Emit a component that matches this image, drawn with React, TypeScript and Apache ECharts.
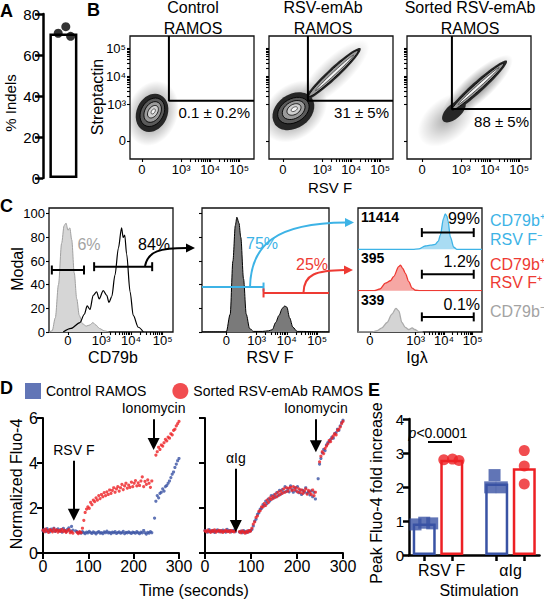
import React, { useEffect, useRef } from "react";
import * as echarts from "echarts";

const FONT = "'Liberation Sans', Arial, Helvetica, sans-serif";
const BLACK = "#000";
const D_BLUE = "#3953a4";
const D_RED = "#ed2024";
const C_BLUE = "#3db3e6";
const C_RED = "#ee3a33";
const C_GRAY = "#a3a3a3";

// ---------------- Panel A ----------------
const A_MEAN = 70.5;
const A_VALUES = [70.6, 73.8, 69.1];
const A_JITTER = [-0.13, 0.06, 0.18];

// ---------------- Panel B ----------------
const B_TITLES = ["Control\nRAMOS", "RSV-emAb\nRAMOS", "Sorted RSV-emAb\nRAMOS"];
const B_PERCENTS = ["0.1 ± 0.2%", "31 ± 5%", "88 ± 5%"];
const LOG_LABELS = ["0", "10³", "10⁴", "10⁵"];
const B_X_TICKS = [0, 1.35, 2.35, 3.35];
const B_Y_TICKS = [0, 1.3, 2.3, 3.3];
const B_X_RANGES = [[-0.41, 3.86], [-0.48, 3.79], [-0.52, 3.76]];
const B_Y_RANGE = [-0.64, 3.73];
const B_GATES = [[0.93, 1.43], [0.86, 1.43], [1.03, 1.14]];
// population contours: [cx, cy, rx, ry, angleDeg, level]
const B1_POP = [
  [0.36, 0.98, 1.15, 0.9, 70, 0],
  [0.35, 1.0, 0.68, 0.55, 65, 1],
  [0.36, 1.02, 0.52, 0.4, 60, 2],
  [0.37, 1.03, 0.38, 0.28, 60, 3],
  [0.38, 1.04, 0.24, 0.16, 55, 4],
  [0.39, 1.05, 0.1, 0.06, 55, 5],
];
const B2_POP = [
  [0.4, 1.05, 1.25, 0.95, 40, 0],
  [1.75, 2.4, 1.6, 0.55, 43, 6],
  [0.36, 1.06, 0.78, 0.6, 35, 1],
  [1.72, 2.38, 1.3, 0.2, 43, 1],
  [0.36, 1.08, 0.58, 0.42, 30, 2],
  [1.74, 2.4, 1.15, 0.13, 43, 3],
  [0.37, 1.1, 0.42, 0.3, 30, 3],
  [0.38, 1.12, 0.26, 0.18, 30, 4],
  [1.78, 2.42, 0.9, 0.05, 43, 5],
  [0.39, 1.13, 0.12, 0.07, 30, 5],
];
const B3_POP = [
  [0.85, 0.75, 1.15, 0.75, 40, 6],
  [1.9, 1.9, 1.6, 0.5, 42, 0],
  [1.1, 1.05, 0.5, 0.26, 42, 1],
  [1.9, 1.9, 1.38, 0.2, 42, 1],
  [1.92, 1.92, 1.2, 0.12, 42, 3],
  [1.95, 1.95, 0.95, 0.05, 42, 5],
];
const B_POPS = [B1_POP, B2_POP, B3_POP];

// ---------------- Panel C ----------------
const C_Y_TICKS = [0, 20, 40, 60, 80, 100];
const C1_X_TICKS = [0, 1.05, 2.0, 3.0];
const C1_CONTROL = [[-0.6, 0], [-0.5, 1], [-0.4, 12], [-0.3, 40], [-0.2, 75], [-0.12, 90], [-0.06, 92], [0.0, 86], [0.06, 88], [0.12, 78], [0.2, 50], [0.28, 28], [0.36, 14], [0.46, 7], [0.58, 5], [0.7, 6], [0.79, 8], [0.88, 6], [1.0, 3], [1.15, 1], [1.3, 0]];
const C1_RAMOS = [[-0.15, 0], [0.1, 3], [0.38, 8], [0.52, 15], [0.61, 22], [0.7, 19], [0.8, 31], [0.91, 34], [0.99, 28], [1.12, 35], [1.23, 31], [1.3, 25], [1.39, 30], [1.49, 48], [1.6, 71], [1.7, 88], [1.75, 80], [1.8, 82], [1.86, 66], [1.97, 34], [2.07, 14], [2.23, 4], [2.39, 0]];
const C1_GATES = [[-0.51, 0.51, 52.4], [0.83, 2.67, 55.2]];
const C1_PCTS = ["6%", "84%"];
const C2_X_TICKS = [0, 1, 2, 3];
const C2_HIST = [[-0.8, 0], [0.0, 0], [0.13, 15], [0.22, 60], [0.3, 90], [0.35, 97], [0.42, 92], [0.48, 80], [0.57, 45], [0.66, 15], [0.77, 3], [0.9, 0.5], [1.2, 0.5], [1.4, 1], [1.52, 2], [1.63, 8], [1.74, 14], [1.85, 20], [1.93, 22], [2.0, 21], [2.09, 12], [2.2, 4], [2.34, 0.5], [3.4, 0]];
const C2_SPLIT = 1.23;
const C2_GATE_Y = [38, 33];
const C2_PCTS = ["75%", "25%"];
const C3_X_TICKS = [0, 1.6, 2.6, 3.6];
const C3_BLUE = [[-0.42, 0], [1.5, 0], [1.71, 1], [1.94, 8], [2.12, 10], [2.29, 12], [2.4, 20], [2.47, 35], [2.58, 75], [2.64, 86], [2.7, 80], [2.74, 68], [2.82, 30], [2.94, 5], [3.05, 0], [3.93, 0]];
const C3_RED = [[-0.42, 0], [0.15, 0], [0.35, 4], [0.54, 18], [0.72, 24], [0.83, 34], [1.01, 58], [1.07, 62], [1.15, 54], [1.24, 42], [1.36, 22], [1.48, 6], [1.6, 1], [1.75, 0], [3.93, 0]];
const C3_GRAY = [[-0.42, 0], [0.07, 0], [0.25, 3], [0.42, 10], [0.6, 23], [0.77, 43], [0.91, 57], [1.01, 51], [1.12, 23], [1.24, 11], [1.36, 6], [1.48, 10], [1.57, 6], [1.71, 1], [1.85, 0]];
const C3_HISTS = [C3_BLUE, C3_RED, C3_GRAY];
const C3_COUNTS = ["11414", "395", "339"];
const C3_PCTS = ["99%", "1.2%", "0.1%"];
const C3_GATE = [1.82, 3.64];
const C3_GATE_Y = [40.6, 39.7, 36.5];
const C3_LABELS = [["CD79b⁺", "RSV F⁻"], ["CD79b⁺", "RSV F⁺"], ["CD79b⁻"]];

// ---------------- Panel D ----------------
const D_STEP = 3; // seconds between samples
const D1_RED = [
  1.02, 0.95, 1.06, 0.98, 0.92, 1.04, 1.0, 0.94, 1.07, 0.97,
  1.03, 0.93, 1.0, 0.96, 1.05, 0.95, 1.01, 0.92, 0.98, 1.04,
  0.9, 0.95, 0.88, null, null, 0.92, 0.86, 0.95, 0.9, 1.1,
  1.45, 1.8, 1.95, 2.05, 1.98, 2.25, 2.15, 2.35, 2.28, 2.45,
  2.35, 2.55, 2.42, 2.6, 2.5, 2.68, 2.55, 2.72, 2.6, 2.8,
  2.65, 2.78, 2.9, 2.7, 2.85, 2.95, 2.75, 2.9, 3.05, 2.82,
  2.98, 3.1, 2.88, 3.02, 2.92, 3.15, 2.95, 3.1, 3.22, 2.98,
  3.12, 3.0, 3.2, 3.38, 2.95, 3.18, 3.05, 3.25, 3.1, 2.92,
  3.2, null, null, 4.35, 4.5, 4.7, 4.6, 4.8, 4.75, 4.9,
  5.05, 4.98, 5.15, 5.1, 5.3, 5.25, 5.45, 5.5, 5.65, 5.75,
  5.85,
];
const D1_BLUE = [
  0.98, 1.05, 0.95, 1.08, 1.0, 0.94, 1.06, 0.99, 1.1, 0.96,
  1.02, 1.07, 0.97, 1.04, 0.93, 1.09, 1.0, 0.95, 1.05, 1.12,
  0.98, 1.18, 1.02, null, 0.98, 0.95, 0.9, 0.92, 0.88, 0.95,
  0.9, 0.86, 0.93, 0.89, 0.96, 0.91, 0.87, 0.94, 0.9, 0.85,
  0.92, 0.95, 0.88, 0.91, 0.86, 0.94, 0.9, 0.97, 0.89, 0.92,
  0.86, 0.93, 0.9, 0.95, 0.87, 0.91, 0.94, 0.88, 0.9, 0.96,
  0.86, 0.92, 0.89, 0.94, 0.9, 0.87, 0.93, 0.91, 0.88, 0.95,
  0.9, 0.86, 0.93, 0.89, 1.0, 0.9, 0.84, 0.92, 0.88, 0.95,
  0.9, null, 1.55, 2.3, 2.55, 2.45, 2.65, 2.7, 2.85, 2.75,
  2.95, 3.0, 3.1, 3.2, 3.35, 3.5, 3.6, 3.8, 3.95, 4.1,
  4.2,
];
const D2_RED = [
  0.98, 0.94, 1.02, 0.96, 0.92, 1.0, 0.95, 1.03, 0.93, 0.97,
  1.01, 0.94, 0.99, 0.92, 0.96, 1.02, 0.95, 0.98, 0.93, 1.0,
  0.96, 0.94, 0.99, null, null, 0.95, 0.9, 0.98, 0.93, 0.88,
  0.96, 0.92, 1.0, 0.97, 1.1, 1.28, 1.38, 1.58, 1.65, 1.85,
  1.88, 2.05, 2.05, 2.2, 2.12, 2.35, 2.25, 2.45, 2.38, 2.52,
  2.45, 2.62, 2.5, 2.7, 2.58, 2.75, 2.65, 2.85, 2.7, 2.9,
  2.75, 2.88, 2.92, 2.78, 2.95, 2.8, 2.9, 2.72, 2.85, 2.68,
  2.8, 2.65, 2.75, 2.85, 2.62, 2.78, 2.7, 2.6, 2.8, 2.55,
  2.7, null, null, 4.05, 4.3, 4.5, 4.42, 4.65, 4.75, 4.85,
  5.0, 4.95, 5.1, 5.2, 5.3, 5.25, 5.45, 5.5, 5.6, 5.75,
  5.85,
];
const D2_BLUE = [
  1.0, 0.96, 0.93, 1.04, 0.97, 0.95, 1.01, 0.92, 0.98, 1.03,
  0.95, 0.99, 0.94, 1.02, 0.97, 0.93, 1.05, 0.96, 1.0, 0.94,
  0.98, 1.02, 0.95, null, null, 0.93, 0.97, 0.9, 0.99, 0.94,
  0.91, 0.98, 0.95, 0.99, 1.05, 1.2, 1.42, 1.5, 1.72, 1.78,
  1.95, 1.98, 2.15, 2.1, 2.3, 2.2, 2.4, 2.32, 2.55, 2.42,
  2.58, 2.48, 2.68, 2.55, 2.78, 2.62, 2.82, 2.7, 2.95, 2.74,
  2.85, 2.72, 2.98, 2.82, 2.7, 2.9, 2.76, 2.95, 2.68, 2.8,
  2.6, 2.78, 2.7, 2.9, 2.66, 2.72, 2.58, 2.76, 2.5, 2.7,
  2.4, null, 3.3, 3.95, 4.2, 4.45, 4.6, 4.55, 4.8, 4.9,
  4.95, 5.05, 5.15, 5.1, 5.3, 5.35, 5.5, 5.45, 5.65, 5.8,
  5.9,
];
const D_SERIES_NAMES = ["Control RAMOS", "Sorted RSV-emAb RAMOS"];
// arrows: [label, time, yStart, yEnd]
const D1_ARROWS: [string, number, number, number][] = [["RSV F", 68, 4.1, 1.7], ["Ionomycin", 244, 5.95, 4.85]];
const D2_ARROWS: [string, number, number, number][] = [["αIg", 67, 3.75, 1.2], ["Ionomycin", 241, 5.95, 4.75]];

// ---------------- Panel E ----------------
const E_GROUPS = ["RSV F", "αIg"];
const E_CTRL_MEAN = [0.93, 2.1];
const E_SORT_MEAN = [2.8, 2.55];
const E_CTRL_PTS = [[0.9, 0.95, 0.93], [2.35, 1.99, 1.99]];
const E_SORT_PTS = [[2.8, 2.82, 2.78], [3.07, 2.62, 2.09]];
const E_CTRL_JIT = [[-0.12, 0, 0.11], [-0.03, -0.09, 0.07]];
const E_SORT_JIT = [[-0.11, 0.01, 0.1], [0, 0, 0]];
const E_P_TEXT = "p";
const E_P_VALUE = "<0.0001";

// ---------------- helpers ----------------
const nearestLabel = (v: number, ticks: number[], labels: string[]) => {
  let k = 0;
  let best = Infinity;
  ticks.forEach((t, j) => {
    const d = Math.abs(t - v);
    if (d < best) {
      best = d;
      k = j;
    }
  });
  return labels[k];
};

// minor log ticks between decades (10^3..10^5) for a decade-spaced display axis
const withMinor = (ticks: number[]) => {
  const out = [...ticks];
  for (let d = 1; d < ticks.length - 1; d++) {
    const base = ticks[d];
    const span = ticks[d + 1] - ticks[d];
    for (let k = 2; k <= 9; k++) out.push(base + span * Math.log10(k));
  }
  return out.sort((a, b) => a - b);
};

const popStyle = (lvl: number): any => {
  switch (lvl) {
    case 0:
      return {
        fill: new echarts.graphic.RadialGradient(0.5, 0.5, 0.5, [
          { offset: 0, color: "rgba(0,0,0,0.55)" },
          { offset: 0.55, color: "rgba(0,0,0,0.25)" },
          { offset: 1, color: "rgba(0,0,0,0)" },
        ]),
      };
    case 6:
      return {
        fill: new echarts.graphic.RadialGradient(0.5, 0.5, 0.5, [
          { offset: 0, color: "rgba(0,0,0,0.32)" },
          { offset: 0.6, color: "rgba(0,0,0,0.12)" },
          { offset: 1, color: "rgba(0,0,0,0)" },
        ]),
      };
    case 1:
      return { fill: "#262626" };
    case 2:
      return { fill: "#5a5a5a", stroke: "#000", lineWidth: 0.8 };
    case 3:
      return { fill: "#9a9a9a", stroke: "#000", lineWidth: 0.8 };
    case 4:
      return { fill: "#d0d0d0", stroke: "#111", lineWidth: 0.8 };
    default:
      return { fill: "#f4f4f4", stroke: "#333", lineWidth: 0.7 };
  }
};

function makeOption() {
  const grid: any[] = [];
  const xAxis: any[] = [];
  const yAxis: any[] = [];
  const series: any[] = [];
  const graphic: any[] = [];

  const addGrid = (left: number, top: number, width: number, height: number, border: boolean) => {
    grid.push({
      left, top, width, height,
      show: border, borderColor: "#111", borderWidth: 1.3,
      backgroundColor: "transparent", containLabel: false, outerBoundsMode: "none",
    });
    return grid.length - 1;
  };

  const tickAxis = (
    g: number, min: number, max: number, ticks: number[], labels: string[] | null,
    fontSize: number, margin = 4, minor = false,
  ) => ({
    gridIndex: g, type: "value", min, max,
    axisLine: { show: false, onZero: false },
    splitLine: { show: false },
    axisTick: {
      show: true, customValues: minor ? withMinor(ticks) : ticks, length: 3,
      lineStyle: { color: BLACK, width: 1.1 },
    },
    axisLabel: {
      show: !!labels, customValues: ticks,
      formatter: (v: number) => (labels ? nearestLabel(v, ticks, labels) : ""),
      fontSize, color: BLACK, margin, fontFamily: FONT,
    },
  });

  const hiddenAxis = (g: number, min: number, max: number) => ({
    gridIndex: g, type: "value", min, max, show: false, axisLine: { onZero: false }, splitLine: { show: false },
  });

  const txt = (text: string, x: number, y: number, o: any = {}) => ({
    type: "text", x, y, silent: true, rotation: o.rot || 0, z: 100,
    style: {
      text,
      fill: o.color || BLACK,
      font: `${o.italic ? "italic " : ""}${o.bold ? "bold " : ""}${o.size || 14}px ${FONT}`,
      textAlign: o.align || "center",
      textVerticalAlign: o.valign || "middle",
      lineHeight: o.lh,
      rich: o.rich,
    },
  });

  // ===== Panel A =====
  const gA = addGrid(43, 14, 40, 164, false);
  xAxis.push(hiddenAxis(gA, 0, 1));
  yAxis.push({
    gridIndex: gA, type: "value", min: 0, max: 80, interval: 20,
    axisLine: { show: true, lineStyle: { color: BLACK, width: 2.5 } },
    axisTick: { show: true, length: 8, lineStyle: { color: BLACK, width: 2.5 } },
    axisLabel: { fontSize: 15, color: BLACK, margin: 3, fontFamily: FONT },
    splitLine: { show: false },
  });
  series.push({
    type: "bar", xAxisIndex: gA, yAxisIndex: gA, data: [[0.51, A_MEAN]], barWidth: 28,
    itemStyle: { color: "#fff", borderColor: BLACK, borderWidth: 2.5 }, z: 2,
  });
  series.push({
    type: "scatter", xAxisIndex: gA, yAxisIndex: gA,
    data: A_VALUES.map((v, i) => [0.51 + A_JITTER[i], v]),
    symbolSize: 9, itemStyle: { color: BLACK }, z: 3,
  });
  graphic.push(txt("A", 0, 2, { bold: true, size: 18, align: "left", valign: "top" }));
  graphic.push(txt("% Indels", 10, 103, { size: 15, rot: Math.PI / 2 }));

  // ===== Panel B =====
  const bLefts = [130, 269, 407];
  const bTitleX = [193, 323, 470];
  const bPctX = [250, 389, 529];
  const bPctY = [112.5, 112.5, 121];
  for (let i = 0; i < 3; i++) {
    const g = addGrid(bLefts[i], 36, 124, 123, true);
    const [xmin, xmax] = B_X_RANGES[i];
    xAxis.push(tickAxis(g, xmin, xmax, B_X_TICKS, LOG_LABELS, 13, 4, true));
    yAxis.push(tickAxis(g, B_Y_RANGE[0], B_Y_RANGE[1], B_Y_TICKS, i === 0 ? LOG_LABELS : null, 13, 4, true));
    series.push({
      type: "custom", xAxisIndex: g, yAxisIndex: g, clip: true, silent: true,
      data: B_POPS[i], encode: { x: 0, y: 1 },
      renderItem: (_p: any, api: any) => {
        const c = api.coord([api.value(0), api.value(1)]);
        const s = api.size([api.value(2), api.value(3)]);
        return {
          type: "ellipse", x: c[0], y: c[1], rotation: (api.value(4) * Math.PI) / 180,
          shape: { cx: 0, cy: 0, rx: s[0], ry: s[1] },
          style: popStyle(api.value(5)),
        };
      },
      z: 2,
    });
    const [gx, gy] = B_GATES[i];
    series.push({
      type: "line", xAxisIndex: g, yAxisIndex: g, silent: true,
      data: [[gx, B_Y_RANGE[1]], [gx, gy], [xmax, gy]],
      symbol: "none", lineStyle: { color: BLACK, width: 2 }, z: 5,
    });
    graphic.push(txt(B_TITLES[i], bTitleX[i], -3, { size: 16, valign: "top", lh: 21 }));
    graphic.push(txt(B_PERCENTS[i], bPctX[i], bPctY[i], { size: 15, align: "right" }));
  }
  graphic.push(txt("B", 87, 1, { bold: true, size: 18, align: "left", valign: "top" }));
  graphic.push(txt("Streptactin", 97, 97, { size: 16, rot: Math.PI / 2 }));
  graphic.push(txt("RSV F", 330, 187, { size: 15 }));

  // ===== Panel C =====
  const C_NAME_Y = 357;
  // C1
  const gC1 = addGrid(49, 208, 124, 124, true);
  xAxis.push(tickAxis(gC1, -0.6, 3.33, C1_X_TICKS, LOG_LABELS, 13, 2, true));
  yAxis.push(tickAxis(gC1, 0, 104.8, C_Y_TICKS, C_Y_TICKS.map(String), 13));
  series.push({
    type: "line", xAxisIndex: gC1, yAxisIndex: gC1, data: C1_CONTROL, smooth: 0.3, smoothMonotone: "x",
    symbol: "none", lineStyle: { color: "#a0a0a0", width: 1 }, areaStyle: { color: "#d6d6d6", opacity: 1 }, z: 2,
  });
  series.push({
    type: "line", xAxisIndex: gC1, yAxisIndex: gC1, data: C1_RAMOS, smooth: 0.3, smoothMonotone: "x",
    symbol: "none", lineStyle: { color: BLACK, width: 1.2 }, z: 3,
  });
  C1_GATES.forEach(([a, b, y]) => {
    series.push({
      type: "line", xAxisIndex: gC1, yAxisIndex: gC1, data: [[a, y], [b, y]],
      symbol: "rect", symbolSize: [2, 9], showSymbol: true, itemStyle: { color: BLACK },
      lineStyle: { color: BLACK, width: 2 }, z: 4, silent: true,
    });
  });
  graphic.push(txt(C1_PCTS[0], 89, 244, { size: 16, color: C_GRAY }));
  graphic.push(txt(C1_PCTS[1], 154, 244, { size: 16 }));
  graphic.push(txt("C", 0, 197, { bold: true, size: 18, align: "left", valign: "top" }));
  graphic.push(txt("Modal", 17, 269, { size: 16, rot: Math.PI / 2 }));
  graphic.push(txt("CD79b", 113, C_NAME_Y, { size: 16 }));

  // C2
  const gC2 = addGrid(202, 208, 127, 124, true);
  const c2min = -0.8, c2max = 3.39;
  xAxis.push(tickAxis(gC2, c2min, c2max, C2_X_TICKS, LOG_LABELS, 13, 2, true));
  yAxis.push(tickAxis(gC2, 0, 104.8, C_Y_TICKS, null, 13));
  series.push({
    type: "line", xAxisIndex: gC2, yAxisIndex: gC2, data: C2_HIST, smooth: 0.3, smoothMonotone: "x",
    symbol: "none", lineStyle: { color: BLACK, width: 1 }, areaStyle: { color: "#7a7a7a", opacity: 1 }, z: 2,
  });
  series.push({
    type: "line", xAxisIndex: gC2, yAxisIndex: gC2, silent: true,
    data: [{ value: [c2min, C2_GATE_Y[0]], symbol: "none" }, { value: [C2_SPLIT, C2_GATE_Y[0]] }],
    symbol: "rect", symbolSize: [2, 9], showSymbol: true, itemStyle: { color: C_BLUE },
    lineStyle: { color: C_BLUE, width: 2 }, z: 4,
  });
  series.push({
    type: "line", xAxisIndex: gC2, yAxisIndex: gC2, silent: true,
    data: [{ value: [C2_SPLIT, C2_GATE_Y[1]] }, { value: [c2max, C2_GATE_Y[1]], symbol: "none" }],
    symbol: "rect", symbolSize: [2, 9], showSymbol: true, itemStyle: { color: C_RED },
    lineStyle: { color: C_RED, width: 2 }, z: 4,
  });
  graphic.push(txt(C2_PCTS[0], 262, 243, { size: 16, color: C_BLUE }));
  graphic.push(txt(C2_PCTS[1], 312, 264, { size: 16, color: C_RED }));
  graphic.push(txt("RSV F", 270, C_NAME_Y, { size: 16 }));

  // C3 frame
  const c3min = -0.42, c3max = 3.93;
  const gC3 = addGrid(358, 208, 124, 124, true);
  xAxis.push(tickAxis(gC3, c3min, c3max, C3_X_TICKS, LOG_LABELS, 13, 2, true));
  yAxis.push(hiddenAxis(gC3, 0, 1));
  const rowColors = [
    { line: C_BLUE, fill: "#a9dcf3" },
    { line: C_RED, fill: "#f6a7a4" },
    { line: "#ababab", fill: "#d4d4d4" },
  ];
  for (let r = 0; r < 3; r++) {
    const g = addGrid(358, 208 + r * 41.33, 124, 41.33, false);
    xAxis.push(hiddenAxis(g, c3min, c3max));
    yAxis.push(hiddenAxis(g, 0, 100));
    series.push({
      type: "line", xAxisIndex: g, yAxisIndex: g, data: C3_HISTS[r], smooth: 0.3, smoothMonotone: "x",
      symbol: "none", lineStyle: { color: rowColors[r].line, width: 1.3 },
      areaStyle: { color: rowColors[r].fill, opacity: 1 }, z: 2,
    });
    series.push({
      type: "line", xAxisIndex: g, yAxisIndex: g, silent: true,
      data: [[C3_GATE[0], C3_GATE_Y[r]], [C3_GATE[1], C3_GATE_Y[r]]],
      symbol: "rect", symbolSize: [2, 9], showSymbol: true, itemStyle: { color: BLACK },
      lineStyle: { color: BLACK, width: 2 }, z: 4,
    });
    const rowTop = 208 + r * 41.33;
    graphic.push(txt(C3_COUNTS[r], 361, rowTop + 9, { size: 14, bold: true, align: "left" }));
    graphic.push(txt(C3_PCTS[r], 480, rowTop + 10 + r * 2, { size: 16, align: "right" }));
  }
  graphic.push(txt("Igλ", 417, C_NAME_Y, { size: 16 }));
  const lblColors = [C_BLUE, C_RED, C_GRAY];
  const lblY = [[220, 239], [264, 282], [311]];
  C3_LABELS.forEach((lines, r) => {
    lines.forEach((l, k) => graphic.push(txt(l, 490, lblY[r][k], { size: 16, color: lblColors[r], align: "left" })));
  });

  // C arrows
  const arrow = (pts: number[], color: string, tip: number[]) => {
    graphic.push({
      type: "bezierCurve", silent: true, z: 90,
      shape: { x1: pts[0], y1: pts[1], cpx1: pts[2], cpy1: pts[3], cpx2: pts[4], cpy2: pts[5], x2: pts[6], y2: pts[7] },
      style: { stroke: color, lineWidth: 2, fill: "none" },
    });
    graphic.push({
      type: "polygon", silent: true, z: 90,
      shape: { points: [[tip[0], tip[1]], [tip[0] - 9, tip[1] - 4.5], [tip[0] - 9, tip[1] + 4.5]] },
      style: { fill: color },
    });
  };
  arrow([145, 266, 148, 251, 160, 248, 187, 248], BLACK, [195, 248]);
  arrow([250, 287, 251, 245, 275, 223, 346, 222.5], C_BLUE, [354, 222.5]);
  arrow([303.5, 292.5, 304, 274, 316, 270.5, 345, 270], C_RED, [353, 270]);

  // ===== Panel D =====
  const toPts = (arr: (number | null)[]) =>
    arr.map((v, i) => (v == null ? null : [i * D_STEP, v])).filter(Boolean);
  const dAxisX = (g: number) => ({
    gridIndex: g, type: "value", min: 0, max: 300, interval: 100,
    axisLine: { show: true, lineStyle: { color: BLACK, width: 2 } },
    axisTick: { show: true, length: 6, lineStyle: { color: BLACK, width: 2 } },
    axisLabel: { fontSize: 16, color: BLACK, margin: 5, fontFamily: FONT },
    splitLine: { show: false },
  });
  const dAxisY = (g: number, labels: boolean) => ({
    gridIndex: g, type: "value", min: 0, max: 6, interval: 2,
    axisLine: { show: true, lineStyle: { color: BLACK, width: 2 } },
    axisTick: { show: true, length: 6, lineStyle: { color: BLACK, width: 2 } },
    axisLabel: { show: labels, fontSize: 16, color: BLACK, margin: 5, fontFamily: FONT },
    splitLine: { show: false },
  });
  const markArrows = (arrows: [string, number, number, number][]) => ({
    silent: true, symbol: ["none", "triangle"], symbolSize: 12,
    lineStyle: { color: BLACK, width: 2, type: "solid" },
    itemStyle: { color: BLACK },
    label: { show: true, position: "start", formatter: (p: any) => p.name, color: BLACK, fontSize: 14, fontFamily: FONT, distance: 4 },
    emphasis: { disabled: true },
    data: arrows.map(([name, t, y0, y1]) => [{ name, coord: [t, y0] }, { coord: [t, y1] }]),
  });
  const dGrids = [addGrid(43, 418, 136, 135, false), addGrid(205, 418, 138, 135, false)];
  const dData = [[D1_BLUE, D1_RED], [D2_BLUE, D2_RED]];
  const dArrows = [D1_ARROWS, D2_ARROWS];
  dGrids.forEach((g, k) => {
    xAxis.push(dAxisX(g));
    yAxis.push(dAxisY(g, k === 0));
    series.push({
      name: D_SERIES_NAMES[0], type: "scatter", xAxisIndex: g, yAxisIndex: g,
      data: toPts(dData[k][0]), symbolSize: 3.2, itemStyle: { color: D_BLUE }, z: 2,
      markLine: markArrows(dArrows[k]),
    });
    series.push({
      name: D_SERIES_NAMES[1], type: "scatter", xAxisIndex: g, yAxisIndex: g,
      data: toPts(dData[k][1]), symbolSize: 3.2, itemStyle: { color: D_RED }, z: 3,
    });
  });
  graphic.push(txt("D", 0, 379, { bold: true, size: 18, align: "left", valign: "top" }));
  graphic.push(txt("Normalized Fluo-4", 16, 484, { size: 16, rot: Math.PI / 2 }));
  graphic.push(txt("Time (seconds)", 194, 590, { size: 16 }));

  // ===== Panel E =====
  const OFF = 0.19;
  const gE = addGrid(409, 419, 130.5, 136, false);
  xAxis.push({
    gridIndex: gE, type: "value", min: -0.4, max: 1.4,
    axisLine: { show: true, onZero: false, lineStyle: { color: BLACK, width: 2.5 } },
    axisTick: { show: true, customValues: [-OFF, OFF, 1 - OFF, 1 + OFF], length: 6, lineStyle: { color: BLACK, width: 2.5 } },
    axisLabel: {
      customValues: [0.05, 1.0], formatter: (v: number) => (v < 0.5 ? E_GROUPS[0] : E_GROUPS[1]),
      fontSize: 16, color: BLACK, margin: 7, fontFamily: FONT,
    },
    splitLine: { show: false },
  });
  yAxis.push({
    gridIndex: gE, type: "value", min: 0, max: 4, interval: 1,
    axisLine: { show: true, onZero: false, lineStyle: { color: BLACK, width: 2.5 } },
    axisTick: { show: true, length: 6, lineStyle: { color: BLACK, width: 2.5 } },
    axisLabel: { fontSize: 15, color: BLACK, margin: 5, fontFamily: FONT },
    splitLine: { show: false },
  });
  const eBars: any[] = [];
  E_GROUPS.forEach((_g, gi) => {
    eBars.push({ value: [gi - OFF, E_CTRL_MEAN[gi]], itemStyle: { color: "#fff", borderColor: D_BLUE, borderWidth: 2.5 } });
    eBars.push({ value: [gi + OFF, E_SORT_MEAN[gi]], itemStyle: { color: "#fff", borderColor: D_RED, borderWidth: 2.5 } });
  });
  series.push({ type: "bar", xAxisIndex: gE, yAxisIndex: gE, data: eBars, barWidth: 23, z: 2 });
  const ctrlPts: number[][] = [];
  const sortPts: number[][] = [];
  E_GROUPS.forEach((_g, gi) => {
    E_CTRL_PTS[gi].forEach((v, j) => ctrlPts.push([gi - OFF + E_CTRL_JIT[gi][j], v]));
    E_SORT_PTS[gi].forEach((v, j) => sortPts.push([gi + OFF + E_SORT_JIT[gi][j], v]));
  });
  series.push({
    name: "E control", type: "scatter", xAxisIndex: gE, yAxisIndex: gE, data: ctrlPts,
    symbol: "rect", symbolSize: 12, itemStyle: { color: D_BLUE }, z: 3,
  });
  series.push({
    name: "E sorted", type: "scatter", xAxisIndex: gE, yAxisIndex: gE, data: sortPts,
    symbol: "circle", symbolSize: 11, itemStyle: { color: D_RED }, z: 3,
  });
  graphic.push(txt("E", 368, 381, { bold: true, size: 18, align: "left", valign: "top" }));
  graphic.push(txt("Peak Fluo-4 fold increase", 376, 493, { size: 16, rot: Math.PI / 2 }));
  graphic.push(txt("Stimulation", 479, 590, { size: 16 }));
  graphic.push(txt(`{i|${E_P_TEXT}}${E_P_VALUE}`, 438, 433, {
    size: 14, rich: { i: { fontStyle: "italic", fontSize: 14, fontFamily: FONT } },
  }));
  graphic.push({
    type: "line", silent: true, z: 100,
    shape: { x1: 428, y1: 442, x2: 452, y2: 442 },
    style: { stroke: BLACK, lineWidth: 2 },
  });

  return {
    animation: false,
    backgroundColor: "#fff",
    textStyle: { fontFamily: FONT },
    legend: {
      show: true, left: 20, top: 378, itemWidth: 16, itemHeight: 16, itemGap: 26, selectedMode: false,
      textStyle: { fontSize: 14, color: BLACK, fontFamily: FONT },
      data: [
        { name: D_SERIES_NAMES[0], icon: "rect" },
        { name: D_SERIES_NAMES[1], icon: "circle" },
      ],
    },
    grid, xAxis, yAxis, series, graphic,
  };
}

export default function App() {
  const ref = useRef<HTMLDivElement>(null);
  useEffect(() => {
    document.body.style.margin = "0";
    const chart = echarts.init(ref.current!, null, { renderer: "svg", width: 544, height: 600 });
    chart.setOption(makeOption() as any);
    return () => chart.dispose();
  }, []);
  return (
    <div
      ref={ref}
      style={{ width: 544, height: 600, position: "absolute", left: 0, top: 0, background: "#fff" }}
    />
  );
}
